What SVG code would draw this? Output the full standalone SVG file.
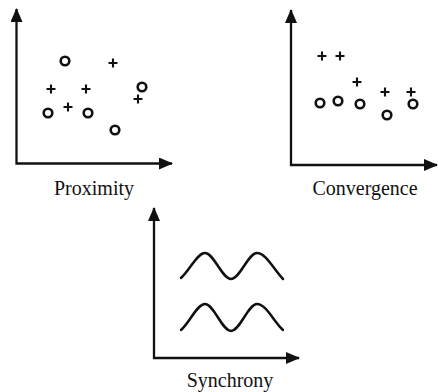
<svg xmlns="http://www.w3.org/2000/svg" width="438" height="392" viewBox="0 0 438 392">
<style>
.axis{fill:none;stroke:#111;stroke-width:2.3;marker-start:url(#ah);marker-end:url(#ah)}
.o{fill:none;stroke:#111;stroke-width:2.6}
.p{fill:none;stroke:#111;stroke-width:2.1}
.w{fill:none;stroke:#111;stroke-width:2.5;stroke-linecap:round}
.lbl{font-family:"Liberation Serif","Times New Roman",serif;font-size:20px;fill:#111;text-anchor:middle}
</style>
<defs>
<marker id="ah" viewBox="0 0 14 12" refX="13" refY="6" markerWidth="14" markerHeight="12" markerUnits="userSpaceOnUse" orient="auto-start-reverse">
<path d="M0,0 L14,6 L0,12 z" fill="#111"/>
</marker>
<g id="pl"><path class="p" d="M-4.5,0 H4.5 M0,-4.5 V4.5"/></g>
</defs>
<g id="connectors">
<path class="axis" d="M16.5,9 V163.5 H172"/>
<path class="axis" d="M291,10 V165 H437"/>
<path class="axis" d="M154,208 V358 H299"/>
</g>
<g id="proximity">
<circle class="o" cx="65" cy="61" r="4.3"/>
<circle class="o" cx="142" cy="87" r="4.3"/>
<circle class="o" cx="48" cy="113" r="4.3"/>
<circle class="o" cx="88" cy="113" r="4.3"/>
<circle class="o" cx="115" cy="130" r="4.3"/>
<use href="#pl" x="113" y="63"/>
<use href="#pl" x="51" y="89"/>
<use href="#pl" x="86" y="89"/>
<use href="#pl" x="138" y="99"/>
<use href="#pl" x="68" y="107"/>
<text class="lbl" x="94" y="195">Proximity</text>
</g>
<g id="convergence">
<use href="#pl" x="322" y="56"/>
<use href="#pl" x="340" y="56"/>
<use href="#pl" x="357" y="82"/>
<use href="#pl" x="385" y="92"/>
<use href="#pl" x="411" y="92"/>
<circle class="o" cx="320" cy="103" r="4.3"/>
<circle class="o" cx="338" cy="101" r="4.3"/>
<circle class="o" cx="360" cy="104" r="4.3"/>
<circle class="o" cx="387" cy="115" r="4.3"/>
<circle class="o" cx="413" cy="104" r="4.3"/>
<text class="lbl" x="365" y="195">Convergence</text>
</g>
<g id="synchrony">
<path class="w" d="M181,278 C190,270 197,253 205,253 C214,253 222,279 231,279 C240,279 248,253 257,253 C266,253 274,270 283,279"/>
<path class="w" d="M181,330 C190,322 197,304 205,304 C214,304 222,331 231,331 C240,331 248,304 257,304 C266,304 274,322 283,330"/>
<text class="lbl" x="230" y="387">Synchrony</text>
</g>
</svg>
